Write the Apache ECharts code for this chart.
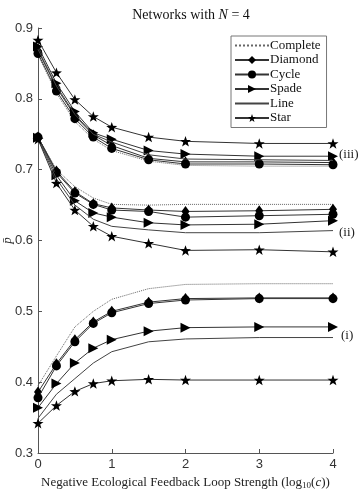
<!DOCTYPE html>
<html>
<head>
<meta charset="utf-8">
<script src="https://cdn.jsdelivr.net/npm/echarts@6/dist/echarts.min.js"></script>
<style>
  html, body { margin: 0; padding: 0; background: #fff; }
  #main { width: 359px; height: 499px; }
</style>
</head>
<body>
<div id="main"></div>
<script>
// x positions: log10(c)
const xVals = [0, 0.25, 0.5, 0.75, 1, 1.5, 2, 3, 4];
const xTicks = [0, 1, 2, 3, 4];
const yTicks = [0.3, 0.4, 0.5, 0.6, 0.7, 0.8, 0.9];
const networks = ['Complete', 'Diamond', 'Cycle', 'Spade', 'Line', 'Star'];

// group (iii)
const completeIII = [0.862, 0.808, 0.768, 0.743, 0.727, 0.712, 0.706, 0.705, 0.705];
const diamondIII  = [0.868, 0.816, 0.776, 0.749, 0.734, 0.716, 0.711, 0.711, 0.710];
const cycleIII    = [0.864, 0.811, 0.772, 0.746, 0.730, 0.714, 0.708, 0.708, 0.707];
const spadeIII    = [0.874, 0.822, 0.782, 0.752, 0.743, 0.727, 0.722, 0.719, 0.719];
const lineIII     = [0.870, 0.818, 0.778, 0.750, 0.739, 0.721, 0.715, 0.714, 0.713];
const starIII     = [0.883, 0.837, 0.799, 0.775, 0.760, 0.746, 0.740, 0.737, 0.737];

// group (ii)
const completeII = [0.746, 0.700, 0.676, 0.660, 0.651, 0.650, 0.651, 0.651, 0.651];
const diamondII  = [0.746, 0.698, 0.669, 0.652, 0.646, 0.643, 0.641, 0.642, 0.644];
const cycleII    = [0.746, 0.696, 0.667, 0.651, 0.643, 0.641, 0.633, 0.635, 0.637];
const spadeII    = [0.745, 0.692, 0.656, 0.639, 0.633, 0.625, 0.622, 0.623, 0.628];
const lineII     = [0.744, 0.687, 0.650, 0.630, 0.620, 0.615, 0.611, 0.611, 0.614];
const starII     = [0.743, 0.681, 0.643, 0.620, 0.606, 0.596, 0.586, 0.587, 0.584];

// group (i)
const completeI = [0.395, 0.437, 0.478, 0.500, 0.517, 0.532, 0.538, 0.539, 0.539];
const diamondI  = [0.386, 0.426, 0.460, 0.485, 0.500, 0.513, 0.518, 0.519, 0.519];
const cycleI    = [0.378, 0.423, 0.457, 0.483, 0.498, 0.511, 0.516, 0.518, 0.518];
const spadeI    = [0.364, 0.398, 0.427, 0.448, 0.460, 0.472, 0.477, 0.478, 0.478];
const lineI     = [0.349, 0.383, 0.405, 0.427, 0.443, 0.457, 0.461, 0.463, 0.463];
const starI     = [0.342, 0.367, 0.387, 0.398, 0.402, 0.404, 0.403, 0.403, 0.403];

const groups = [
  [completeIII, diamondIII, cycleIII, spadeIII, lineIII, starIII],
  [completeII, diamondII, cycleII, spadeII, lineII, starII],
  [completeI, diamondI, cycleI, spadeI, lineI, starI]
];

const starPath = 'path://M0,-10L2.35,-3.24L9.51,-3.09L3.8,1.24L5.88,8.09L0,4L-5.88,8.09L-3.8,1.24L-9.51,-3.09L-2.35,-3.24Z';
const styles = {
  Complete: { symbol: 'none', size: 0, rotate: 0, type: 'dotted', color: '#666' },
  Diamond:  { symbol: 'diamond', size: [8, 11], rotate: 0, type: 'solid', color: '#333' },
  Cycle:    { symbol: 'circle', size: 9, rotate: 0, type: 'solid', color: '#333' },
  Spade:    { symbol: 'triangle', size: [10, 10], rotate: -90, type: 'solid', color: '#333' },
  Line:     { symbol: 'none', size: 0, rotate: 0, type: 'solid', color: '#444' },
  Star:     { symbol: starPath, size: 11, rotate: 0, type: 'solid', color: '#333' }
};

const series = [];
groups.forEach(function (g) {
  g.forEach(function (vals, k) {
    const name = networks[k];
    const st = styles[name];
    series.push({
      name: name,
      type: 'line',
      data: xVals.map(function (x, i) { return [x, vals[i]]; }),
      symbol: st.symbol,
      symbolSize: st.size,
      symbolRotate: st.rotate,
      symbolKeepAspect: true,
      showSymbol: st.symbol !== 'none',
      lineStyle: { color: st.color, width: 1, type: st.type },
      itemStyle: { color: '#000' },
      emphasis: { disabled: true },
      animation: false,
      z: 2 + k
    });
  });
});

// legend entries: no marker for the plain-line networks
const legendData = networks.map(function (n) {
  return styles[n].symbol === 'none' ? { name: n, itemStyle: { opacity: 0 } } : { name: n };
});

const chart = echarts.init(document.getElementById('main'));
const serif = '"Liberation Serif", "DejaVu Serif", serif';
const sans = '"Liberation Sans", Arial, sans-serif';

chart.setOption({
  backgroundColor: '#fff',
  animation: false,
  title: {
    text: 'Networks with {i|N} = 4',
    left: 186,
    top: 3,
    textAlign: 'center',
    textStyle: {
      fontFamily: serif, fontSize: 14, fontWeight: 'normal', color: '#111',
      rich: { i: { fontFamily: serif, fontSize: 14, fontStyle: 'italic', color: '#111' } }
    }
  },
  legend: {
    data: legendData,
    orient: 'vertical',
    left: 231,
    top: 36,
    padding: [3, 6, 3, 3],
    itemWidth: 34,
    itemHeight: 10,
    itemGap: 1.5,
    borderColor: '#777',
    borderWidth: 1,
    backgroundColor: '#fff',
    selectedMode: false,
    textStyle: { fontFamily: serif, fontSize: 13, color: '#111', padding: [0, 0, 0, -4] }
  },
  grid: { left: 38, right: 26, top: 28, bottom: 46, outerBoundsMode: 'none', containLabel: false },
  xAxis: {
    type: 'value',
    min: 0, max: 4, interval: 1,
    name: '{a|Negative Ecological Feedback Loop Strength (log}{s|10}{a|(}{i|c}{a|))}',
    nameLocation: 'middle',
    nameGap: 22,
    nameMoveOverlap: false,
    nameTextStyle: {
      rich: {
        a: { fontFamily: serif, fontSize: 13, color: '#222' },
        s: { fontFamily: serif, fontSize: 9, color: '#222', padding: [6, 0, 0, 0] },
        i: { fontFamily: serif, fontSize: 13, fontStyle: 'italic', color: '#222' }
      }
    },
    axisLine: { lineStyle: { color: '#555', width: 1 } },
    axisTick: { inside: true, length: 4, lineStyle: { color: '#555' } },
    axisLabel: {
      fontFamily: sans, fontSize: 13, color: '#333', margin: 5,
      formatter: function (v) { return xTicks.indexOf(v) >= 0 ? String(v) : ''; }
    },
    splitLine: { show: false }
  },
  yAxis: {
    type: 'value',
    min: 0.3, max: 0.9, interval: 0.1,
    name: 'p\u0304',
    nameLocation: 'middle',
    nameGap: 24,
    nameMoveOverlap: false,
    nameTextStyle: { fontFamily: serif, fontSize: 13, fontStyle: 'italic', color: '#222' },
    axisLine: { show: true, lineStyle: { color: '#555', width: 1 } },
    axisTick: { show: true, inside: true, length: 4, lineStyle: { color: '#555' } },
    axisLabel: {
      fontFamily: sans, fontSize: 13, color: '#333', margin: 5,
      formatter: function (v) {
        const t = yTicks.find(function (y) { return Math.abs(y - v) < 1e-6; });
        return t === undefined ? '' : t.toFixed(1);
      }
    },
    splitLine: { show: false }
  },
  graphic: [
    { type: 'text', left: 339, top: 148, style: { text: '(iii)', font: '13px ' + serif, fill: '#222' } },
    { type: 'text', left: 339, top: 226, style: { text: '(ii)', font: '13px ' + serif, fill: '#222' } },
    { type: 'text', left: 341, top: 329, style: { text: '(i)', font: '13px ' + serif, fill: '#222' } }
  ],
  series: series
});
</script>
</body>
</html>
